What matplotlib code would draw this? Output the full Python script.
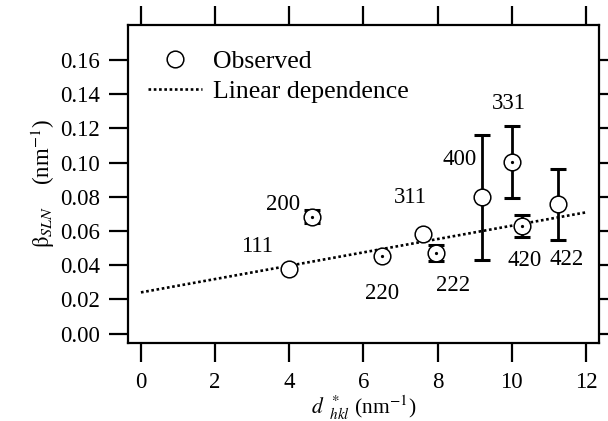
import matplotlib
matplotlib.use("Agg")
import matplotlib.pyplot as plt
import numpy as np

plt.rcParams['font.family'] = ['Liberation Serif', 'DejaVu Serif']
plt.rcParams['mathtext.fontset'] = 'stix'

# Reflexe und gemessene Verbreiterung
hkl = ['111', '200', '220', '311', '222', '400', '331', '420', '422']
d_star = [3.98, 4.61, 6.50, 7.62, 7.96, 9.19, 10.00, 10.27, 11.26]
beta = [0.0377, 0.0684, 0.0454, 0.0582, 0.0470, 0.0797, 0.1002, 0.0629, 0.0756]
beta_err = [0.0, 0.0037, 0.0, 0.0, 0.0046, 0.0365, 0.0210, 0.0064, 0.0208]

# lineare Abhaengigkeit
fit_x = [0.0, 12.0]
fit_intercept = 0.0241
fit_slope = 0.0039

# Reflexe mit Punkt in der Kreismitte
dotted_hkl = ['200', '220', '222', '331', '420']

# Beschriftungsversatz in Punkten
label_offset = {
    '111': (-23, 16), '200': (-21, 8.5), '220': (0, -27), '311': (-9.6, 26.4),
    '222': (12, -23), '400': (-15.6, 27), '331': (-2.4, 42.5),
    '420': (2.4, -24.5), '422': (6, -40),
}

fig = plt.figure(figsize=(6.08, 4.21), dpi=100)
ax = fig.add_axes([0.2105, 0.1853, 0.7745, 0.7553])

xs = np.array(d_star)
ys = np.array(beta)
errs = np.array(beta_err)

fx = np.array(fit_x)
ax.plot(fx, fit_intercept + fit_slope * fx, color='black', lw=1.9,
        dashes=(1, 1.0), label='Linear dependence', zorder=1)

has_err = errs > 0
ax.errorbar(xs[has_err], ys[has_err], yerr=errs[has_err], fmt='none',
            ecolor='black', elinewidth=2.0, capsize=6, capthick=2.2, zorder=2)

ax.plot(xs, ys, 'o', ms=12, mfc='white', mec='black', mew=1.1,
        label='Observed', zorder=3)

dot = np.array([h in dotted_hkl for h in hkl])
ax.plot(xs[dot], ys[dot], 'o', ms=1.3, color='black', zorder=4)

for h, x, y in zip(hkl, d_star, beta):
    ax.annotate(h, (x, y), xytext=label_offset[h], textcoords='offset points',
                ha='center', va='center', fontsize=16.5)

ax.set_xlim(-0.35, 12.35)
ax.set_ylim(-0.0055, 0.1805)
ax.set_xticks(range(0, 13, 2))
ax.set_yticks(np.arange(0, 0.17, 0.02))
ax.yaxis.set_major_formatter(matplotlib.ticker.FormatStrFormatter('%.2f'))

for s in ax.spines.values():
    s.set_linewidth(1.6)
ax.tick_params(direction='out', length=14, width=1.6, labelsize=16.5,
               top=True, right=True, labeltop=False, labelright=False)
ax.tick_params(axis='y', pad=6)
ax.tick_params(axis='x', pad=7)

ax.set_xlabel(r'$d^{\;\,*}_{\;\;\,hkl}$ (nm$^{-1}$)', fontsize=15.5, labelpad=0)
ax.set_ylabel(r'$\mathrm{\beta}_{SLN}$    (nm$^{-1}$)', fontsize=16.5, labelpad=2)

handles, labels = ax.get_legend_handles_labels()
ax.legend(handles[::-1], labels[::-1], loc='upper left', frameon=False,
          fontsize=18.5, handlelength=2.1, handletextpad=0.45,
          labelspacing=0.3, bbox_to_anchor=(0.02, 0.955), borderaxespad=0)

fig.savefig('out.png', dpi=100)
